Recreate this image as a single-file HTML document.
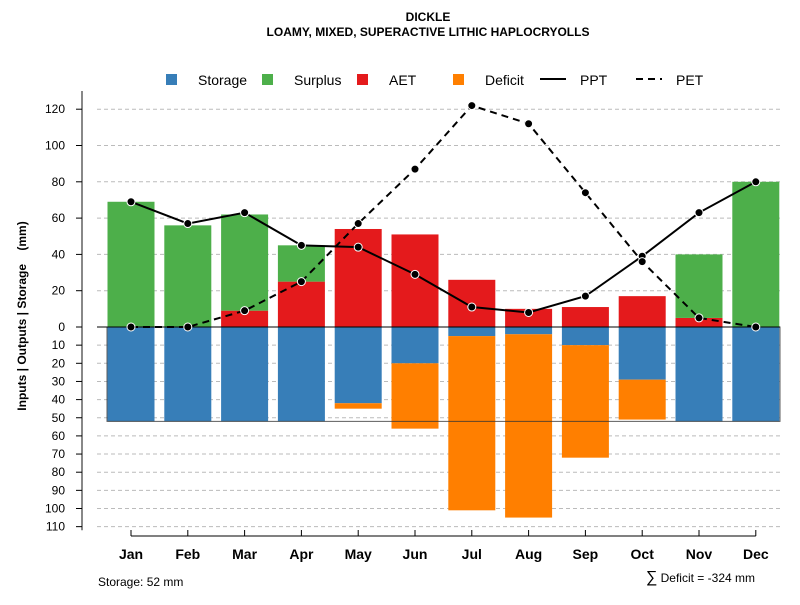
<!DOCTYPE html>
<html><head><meta charset="utf-8"><style>
body{margin:0;background:#fff}
text{font-family:"Liberation Sans",Arial,sans-serif}
</style></head><body>
<svg id="c" width="800" height="600" xmlns="http://www.w3.org/2000/svg">
<text x="428" y="21" text-anchor="middle" font-size="12" font-weight="bold">DICKLE</text>
<text x="428" y="36" text-anchor="middle" font-size="12" font-weight="bold">LOAMY, MIXED, SUPERACTIVE LITHIC HAPLOCRYOLLS</text>
<g font-size="14">
<rect x="166" y="74" width="11" height="11" fill="#377eb8"/><text x="198" y="85">Storage</text>
<rect x="262" y="74" width="11" height="11" fill="#4daf4a"/><text x="294" y="85">Surplus</text>
<rect x="357" y="74" width="11" height="11" fill="#e41a1c"/><text x="389" y="85">AET</text>
<rect x="453" y="74" width="11" height="11" fill="#ff7f00"/><text x="485" y="85">Deficit</text>
<line x1="540" y1="79" x2="566" y2="79" stroke="#000" stroke-width="2"/><text x="580" y="85">PPT</text>
<line x1="636" y1="79" x2="662" y2="79" stroke="#000" stroke-width="2" stroke-dasharray="7,5"/><text x="676" y="85">PET</text>
</g>
<g id="grid"></g><g id="bars"></g><g id="lines"></g><g id="axes"></g>
<text x="26" y="316" transform="rotate(-90 26 316)" text-anchor="middle" font-size="12" font-weight="bold">Inputs | Outputs | Storage&#160;&#160;&#160;&#160;(mm)</text>
<text x="98" y="586" font-size="12">Storage: 52 mm</text>
<text x="755" y="582" text-anchor="end" font-size="12"><tspan font-size="16">∑</tspan> Deficit = -324 mm</text>
</svg>
<script>
const months=["Jan","Feb","Mar","Apr","May","Jun","Jul","Aug","Sep","Oct","Nov","Dec"];
const aet=[0,0,9,25,54,51,26,10,11,17,5,0];
const surplus=[69,56,53,20,0,0,0,0,0,0,35,80];
const storage=[52,52,52,52,42,20,5,4,10,29,52,52];
const deficit=[0,0,0,0,3,36,96,101,62,22,0,0];
const ppt=[69,57,63,45,44,29,11,8,17,39,63,80];
const pet=[0,0,9,25,57,87,122,112,74,36,5,0];
const upTicks=[0,20,40,60,80,100,120];
const downTicks=[10,20,30,40,50,60,70,80,90,100,110];
const capacity=52;
const NS="http://www.w3.org/2000/svg";
const y0=327,k=1.815;
const yUp=v=>y0-v*k, yDn=v=>y0+v*k;
const xC=i=>131+i*56.8;
const bw=47;
function mk(p,t,a){const e=document.createElementNS(NS,t);for(const q in a)e.setAttribute(q,a[q]);document.getElementById(p).appendChild(e);return e;}
upTicks.slice(1).forEach(v=>{const l=mk('grid','line',{x1:97,x2:780,y1:yUp(v),y2:yUp(v),stroke:'#bbb','stroke-dasharray':'4,3'});

});
downTicks.forEach(v=>{const l=mk('grid','line',{x1:97,x2:780,y1:yDn(v),y2:yDn(v),stroke:'#bbb','stroke-dasharray':'4,3'});

});
months.forEach((m,i)=>{const x=xC(i)-bw/2;
let r=mk('bars','rect',{x:x,y:yUp(aet[i]),width:bw,height:aet[i]*k,fill:'#e41a1c'});


r=mk('bars','rect',{x:x,y:yUp(aet[i]+surplus[i]),width:bw,height:surplus[i]*k,fill:'#4daf4a'});


r=mk('bars','rect',{x:x,y:y0,width:bw,height:storage[i]*k,fill:'#377eb8'});


r=mk('bars','rect',{x:x,y:yDn(storage[i]),width:bw,height:deficit[i]*k,fill:'#ff7f00'});


});
let box=mk('bars','rect',{x:107,y:y0,width:673,height:capacity*k,fill:'none',stroke:'#333','stroke-width':1,opacity:0.8});


let zl=mk('bars','line',{x1:97,x2:780,y1:y0,y2:y0,stroke:'#000'});


let pp=mk('lines','polyline',{points:ppt.map((v,i)=>xC(i)+','+yUp(v)).join(' '),fill:'none',stroke:'#000','stroke-width':2});


let pe=mk('lines','polyline',{points:pet.map((v,i)=>xC(i)+','+yUp(v)).join(' '),fill:'none',stroke:'#000','stroke-width':2,'stroke-dasharray':'7,5'});


months.forEach((m,i)=>{[[ppt,'ppt'],[pet,'pet']].forEach(([a,n])=>{
const c=mk('lines','circle',{cx:xC(i),cy:yUp(a[i]),r:4,fill:'#000',stroke:'#fff','stroke-width':1});

});});
let ax=mk('axes','line',{x1:82,x2:82,y1:yUp(130),y2:yDn(112),stroke:'#888','stroke-width':2});


upTicks.forEach(v=>{mk('axes','line',{x1:76,x2:82,y1:yUp(v),y2:yUp(v),stroke:'#000'});
const t=mk('axes','text',{x:65,y:yUp(v)+4,'text-anchor':'end','font-size':12});t.textContent=v;

});
downTicks.forEach(v=>{mk('axes','line',{x1:76,x2:82,y1:yDn(v),y2:yDn(v),stroke:'#000'});
const t=mk('axes','text',{x:65,y:yDn(v)+4,'text-anchor':'end','font-size':12});t.textContent=v;

});
let xa=mk('axes','line',{x1:xC(0),x2:xC(11),y1:536,y2:536,stroke:'#000'});


months.forEach((m,i)=>{mk('axes','line',{x1:xC(i),x2:xC(i),y1:530,y2:536,stroke:'#000'});
const t=mk('axes','text',{x:xC(i),y:559,'text-anchor':'middle','font-size':14,'font-weight':'bold'});t.textContent=m;

});
</script>
</body></html>
